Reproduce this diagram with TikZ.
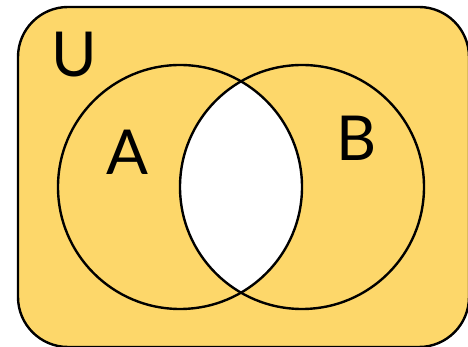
\documentclass[tikz,border=0pt]{standalone}
\usepackage{fontspec}
\setmainfont{Lato}
\definecolor{venn}{HTML}{FDD76A}
\begin{document}
\begin{tikzpicture}[x=1pt,y=1pt,
  setline/.style={line width=2.4pt,black},
  lbl/.style={anchor=base,inner sep=0pt,font=\fontsize{62}{66}\selectfont}]
\useasboundingbox (0,0) rectangle (468,347);
\draw[setline,fill=venn,rounded corners=50pt] (18,0) rectangle (469,340);
\begin{scope}
  \clip (180,160) circle (122);
  \fill[white] (302,160) circle (122);
\end{scope}
\node[setline,draw,circle,minimum size=244pt,inner sep=0pt] (A) at (180,160) {};
\node[setline,draw,circle,minimum size=244pt,inner sep=0pt] (B) at (302,160) {};
\node[lbl] (lu) at (74,270) {U};
\node[lbl] (la) at (127,172) {A};
\node[lbl] (lb) at (357,186) {B};
\end{tikzpicture}
\end{document}
